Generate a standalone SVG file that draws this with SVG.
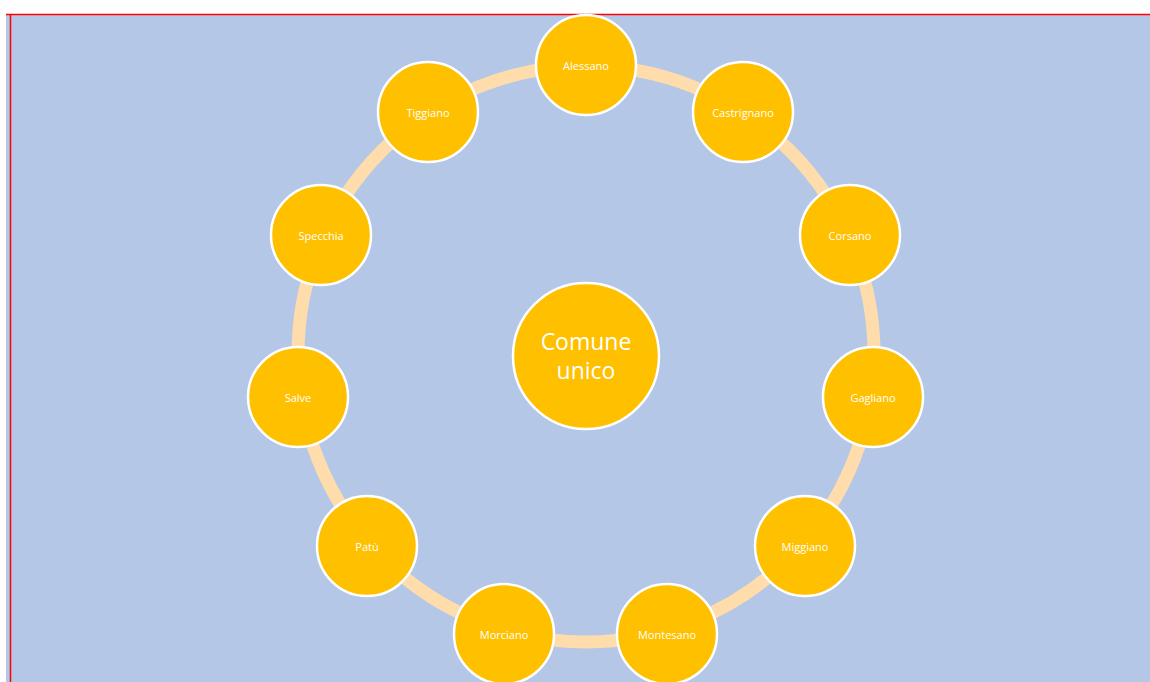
<svg xmlns="http://www.w3.org/2000/svg" width="1150" height="682" viewBox="0 0 1150 682">
<style>
.n circle{fill:#FFC000;stroke:#FFFFFF;stroke-width:2.5}
.n text{fill:#FFFFFF;font-family:"Open Sans","Liberation Sans",sans-serif;font-size:11px;text-anchor:middle;dominant-baseline:central}
#center text{font-size:23px}
</style>
<rect x="0" y="0" width="1150" height="682" fill="#FFFFFF"/>
<rect x="6" y="14" width="1144" height="668" fill="#B4C7E7"/>
<line x1="6" y1="14.5" x2="1150" y2="14.5" stroke="#FF0000" stroke-width="1.5"/>
<line x1="10.5" y1="14" x2="10.5" y2="682" stroke="#FF0000" stroke-width="1.5"/>
<g id="connectors">
<circle cx="586" cy="354" r="288" fill="none" stroke="#FFDCAB" stroke-width="13"/>
</g>
<g id="center" class="n"><circle cx="586" cy="356" r="73"/><text x="586" y="341">Comune</text><text x="586" y="370">unico</text></g>
<g id="alessano" class="n"><circle cx="586" cy="65" r="50"/><text x="586" y="65">Alessano</text></g>
<g id="castrignano" class="n"><circle cx="743" cy="112" r="50"/><text x="743" y="112">Castrignano</text></g>
<g id="corsano" class="n"><circle cx="850" cy="235" r="50"/><text x="850" y="235">Corsano</text></g>
<g id="gagliano" class="n"><circle cx="873" cy="397" r="50"/><text x="873" y="397">Gagliano</text></g>
<g id="miggiano" class="n"><circle cx="805" cy="546" r="50"/><text x="805" y="546">Miggiano</text></g>
<g id="montesano" class="n"><circle cx="667" cy="634" r="50"/><text x="667" y="634">Montesano</text></g>
<g id="morciano" class="n"><circle cx="504" cy="634" r="50"/><text x="504" y="634">Morciano</text></g>
<g id="patu" class="n"><circle cx="367" cy="546" r="50"/><text x="367" y="546">Patù</text></g>
<g id="salve" class="n"><circle cx="298" cy="397" r="50"/><text x="298" y="397">Salve</text></g>
<g id="specchia" class="n"><circle cx="321" cy="235" r="50"/><text x="321" y="235">Specchia</text></g>
<g id="tiggiano" class="n"><circle cx="428" cy="112" r="50"/><text x="428" y="112">Tiggiano</text></g>
</svg>
